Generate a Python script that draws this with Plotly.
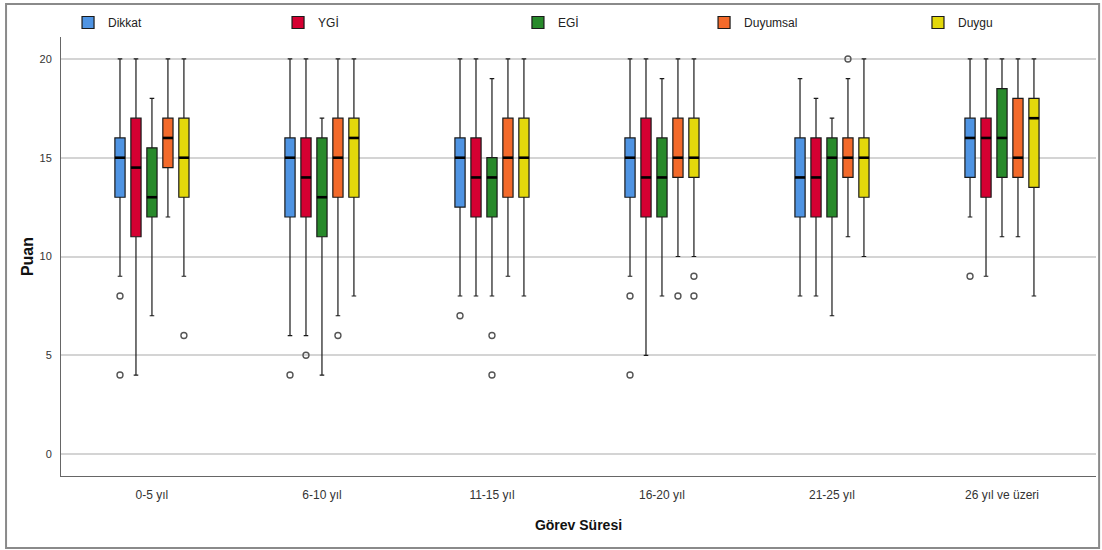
import plotly.graph_objects as go

categories = ["0-5 yıl", "6-10 yıl", "11-15 yıl", "16-20 yıl", "21-25 yıl", "26 yıl ve üzeri"]
series = ["Dikkat", "YGİ", "EGİ", "Duyumsal", "Duygu"]
colors = ["#4f94e3", "#d50032", "#288a2b", "#f36a2b", "#e3d80b"]

# per series: lower whisker, q1, median, q3, upper whisker (one value per category)
dikkat_low = [9, 6, 8, 9, 8, 12]
dikkat_q1 = [13, 12, 12.5, 13, 12, 14]
dikkat_med = [15, 15, 15, 15, 14, 16]
dikkat_q3 = [16, 16, 16, 16, 16, 17]
dikkat_high = [20, 20, 20, 20, 19, 20]
dikkat_out = [[8, 4], [4], [7], [8, 4], [], [9]]

ygi_low = [4, 6, 8, 5, 8, 9]
ygi_q1 = [11, 12, 12, 12, 12, 13]
ygi_med = [14.5, 14, 14, 14, 14, 16]
ygi_q3 = [17, 16, 16, 17, 16, 17]
ygi_high = [20, 20, 20, 20, 18, 20]
ygi_out = [[], [5], [], [], [], []]

egi_low = [7, 4, 8, 8, 7, 11]
egi_q1 = [12, 11, 12, 12, 12, 14]
egi_med = [13, 13, 14, 14, 15, 16]
egi_q3 = [15.5, 16, 15, 16, 16, 18.5]
egi_high = [18, 17, 19, 19, 17, 20]
egi_out = [[], [], [6, 4], [], [], []]

duyumsal_low = [12, 7, 9, 10, 11, 11]
duyumsal_q1 = [14.5, 13, 13, 14, 14, 14]
duyumsal_med = [16, 15, 15, 15, 15, 15]
duyumsal_q3 = [17, 17, 17, 17, 16, 18]
duyumsal_high = [20, 20, 20, 20, 19, 20]
duyumsal_out = [[], [6], [], [8], [20], []]

duygu_low = [9, 8, 8, 10, 10, 8]
duygu_q1 = [13, 13, 13, 14, 13, 13.5]
duygu_med = [15, 16, 15, 15, 15, 17]
duygu_q3 = [17, 17, 17, 17, 16, 18]
duygu_high = [20, 20, 20, 20, 20, 20]
duygu_out = [[6], [], [], [9, 8], [], []]

y_ticks = [0, 5, 10, 15, 20]

stats = [
    (dikkat_low, dikkat_q1, dikkat_med, dikkat_q3, dikkat_high, dikkat_out),
    (ygi_low, ygi_q1, ygi_med, ygi_q3, ygi_high, ygi_out),
    (egi_low, egi_q1, egi_med, egi_q3, egi_high, egi_out),
    (duyumsal_low, duyumsal_q1, duyumsal_med, duyumsal_q3, duyumsal_high, duyumsal_out),
    (duygu_low, duygu_q1, duygu_med, duygu_q3, duygu_high, duygu_out),
]

slot = 0.094      # distance between neighbouring boxes (category units)
box_w = 0.06      # box width (category units)
legend_x = [0.0068, 0.2097, 0.4415, 0.6213, 0.8280]
legend_names = ["legend", "legend2", "legend3", "legend4", "legend5"]

fig = go.Figure()
for k, name in enumerate(series):
    low, q1, med, q3, high, outs = stats[k]
    xs = [i + (k - 2) * slot for i in range(len(categories))]
    fig.add_trace(go.Box(
        x=xs, q1=q1, median=med, q3=q3, lowerfence=low, upperfence=high,
        name=name, fillcolor=colors[k], width=box_w, whiskerwidth=0.45,
        line=dict(color="#1a1a1a", width=1.2), boxpoints=False,
        legend=legend_names[k], showlegend=True, hoverinfo="y",
    ))
    # thicker median bars
    fig.add_trace(go.Scatter(
        x=xs, y=med, mode="markers", showlegend=False, hoverinfo="skip",
        marker=dict(symbol="line-ew", size=7.3, line=dict(color="black", width=2.6)),
    ))
    ox, oy = [], []
    for i, vals in enumerate(outs):
        for v in vals:
            ox.append(xs[i])
            oy.append(v)
    fig.add_trace(go.Scatter(
        x=ox, y=oy, mode="markers", showlegend=False, hoverinfo="y",
        marker=dict(symbol="circle-open", size=6, color="#555555", line=dict(width=1.4, color="#555555")),
    ))

legend_common = dict(orientation="h", yanchor="middle", xanchor="left", y=1.033,
                     bgcolor="rgba(0,0,0,0)", font=dict(family="Liberation Sans, Arial", size=12, color="#222"),
                     itemwidth=30, borderwidth=0)
layout_legends = {}
for k, ln in enumerate(legend_names):
    layout_legends[ln] = dict(legend_common, x=legend_x[k])

fig.update_layout(
    width=1102, height=550,
    margin=dict(l=61, r=6, t=37, b=74, autoexpand=False),
    paper_bgcolor="white", plot_bgcolor="white",
    font=dict(family="Liberation Sans, Arial", size=11, color="#333"),
    boxmode="overlay",
    xaxis=dict(
        range=[-0.535, 5.553], tickmode="array", tickvals=list(range(len(categories))), ticktext=categories,
        showgrid=False, zeroline=False, showline=True, linecolor="#666", linewidth=1,
        ticks="", ticklabelstandoff=8, tickfont=dict(size=12, color="#333"),
        title=dict(text="Görev Süresi", font=dict(size=14, color="#111", weight="bold"), standoff=18),
    ),
    yaxis=dict(
        range=[-1.11, 21.11], tickmode="array", tickvals=y_ticks,
        showgrid=True, gridcolor="#d4d4d4", gridwidth=1.5, zeroline=False,
        showline=True, linecolor="#666", linewidth=1, ticks="", ticklabelstandoff=6,
        tickfont=dict(size=11, color="#333"),
        title=dict(text="Puan", font=dict(size=16, color="#111", weight="bold"), standoff=1),
    ),
    shapes=[dict(type="rect", xref="paper", yref="paper", x0=-0.0531, x1=1.003, y0=-0.164, y1=1.075,
                 line=dict(color="#8a8a8a", width=2), fillcolor="rgba(0,0,0,0)", layer="below")],
    **layout_legends,
)

fig.write_html("out.html", config={"displayModeBar": False},
               post_script="document.body.style.margin='0px';")
